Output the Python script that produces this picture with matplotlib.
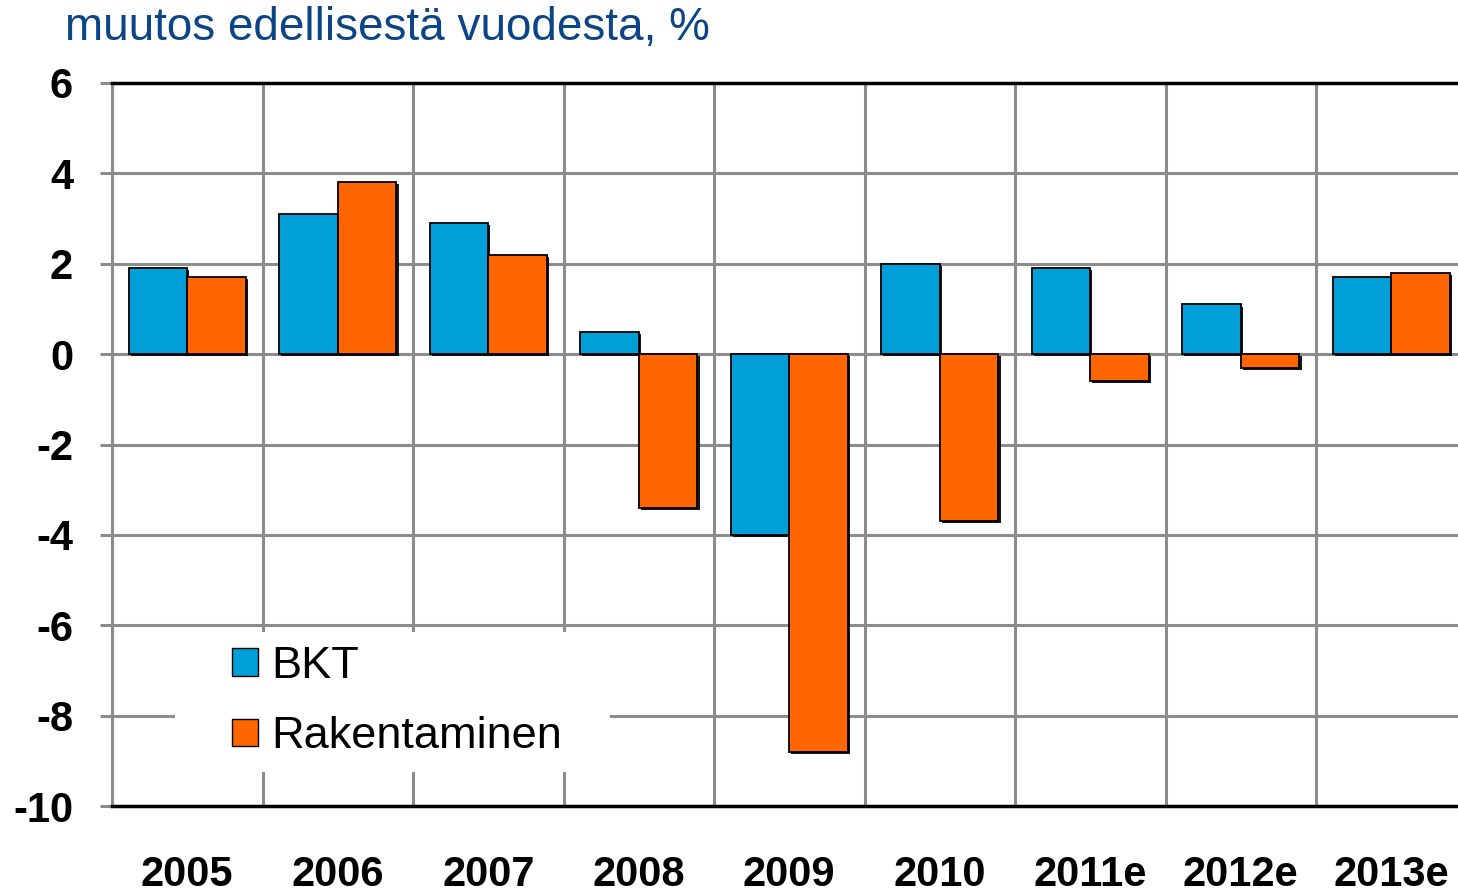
import matplotlib
matplotlib.use("Agg")
import matplotlib.pyplot as plt
import matplotlib.patches as mpatches
import matplotlib.patheffects as pe
import numpy as np

plt.rcParams['font.family'] = ['Liberation Sans', 'DejaVu Sans']
plt.rcParams['axes.unicode_minus'] = False

years = ["2005", "2006", "2007", "2008", "2009", "2010", "2011e", "2012e", "2013e"]
bkt = [1.9, 3.1, 2.9, 0.5, -4.0, 2.0, 1.9, 1.1, 1.7]
rakentaminen = [1.7, 3.8, 2.2, -3.4, -8.8, -3.7, -0.6, -0.3, 1.8]
series_names = ["BKT", "Rakentaminen"]
yticks = [6, 4, 2, 0, -2, -4, -6, -8, -10]

c_blue = "#009FD8"
c_orange = "#FF6600"
c_grid = "#8C8C8C"
c_title = "#0B4587"

W, H = 1458, 892
fig = plt.figure(figsize=(W / 100, H / 100), dpi=100)
ax = fig.add_axes([112 / W, 86 / H, (W - 112) / W, 723 / H])

x = np.arange(len(years))
bw = 0.39
shadow = [pe.SimplePatchShadow(offset=(1.5, -1.5), shadow_rgbFace='black', alpha=0.9), pe.Normal()]
b1 = ax.bar(x - bw / 2, bkt, bw, color=c_blue, edgecolor='black', linewidth=1.3, zorder=3,
            label=series_names[0])
b2 = ax.bar(x + bw / 2, rakentaminen, bw, color=c_orange, edgecolor='black', linewidth=1.3, zorder=3,
            label=series_names[1])
for p in list(b1) + list(b2):
    p.set_path_effects(shadow)

ax.set_xlim(-0.5, -0.5 + (W - 112) / 150.5)
ax.set_ylim(-10, 6)
ax.set_yticks(yticks)
ax.set_yticklabels([str(v) for v in yticks], fontsize=30, fontweight='bold')
ax.set_xticks(x)
ax.set_xticklabels(years, fontsize=30, fontweight='bold')

# gridlines
ax.set_axisbelow(True)
for v in yticks[1:-1]:
    ax.axhline(v, color=c_grid, lw=2.2, zorder=1)
for b in np.arange(len(years)) - 0.5:
    ax.axvline(b, color=c_grid, lw=2.2, zorder=1)

for s in ['top', 'bottom']:
    ax.spines[s].set_color('black')
    ax.spines[s].set_linewidth(2.5)
    ax.spines[s].set_zorder(4)
ax.spines['left'].set_color(c_grid)
ax.spines['left'].set_linewidth(2.2)
ax.spines['right'].set_visible(False)

ax.tick_params(axis='y', length=9, width=2.2, color=c_grid, pad=19)
ax.tick_params(axis='x', length=0, pad=35)

# legend background
ax.add_patch(mpatches.Rectangle(((175 - 112) / 1346, (806 - 772) / 723),
                                (610 - 175) / 1346, (772 - 632) / 723,
                                transform=ax.transAxes, facecolor='white',
                                edgecolor='none', zorder=2))
handles = [mpatches.Patch(facecolor=c_blue, edgecolor='black', linewidth=1.0),
           mpatches.Patch(facecolor=c_orange, edgecolor='black', linewidth=1.0)]
leg = ax.legend(handles, series_names, loc='upper left',
                bbox_to_anchor=((232 - 112) / 1346, (806 - 646) / 723),
                frameon=False, fontsize=32.5, borderpad=0, borderaxespad=0,
                handlelength=0.57, handleheight=0.57, handletextpad=0.3,
                labelspacing=0.65)
leg.set_zorder(5)

fig.text(65 / W, 1 - 28 / H, "muutos edellisestä vuodesta, %", color=c_title,
         fontsize=33, ha='left', va='center')

fig.savefig("out.png", dpi=100)
